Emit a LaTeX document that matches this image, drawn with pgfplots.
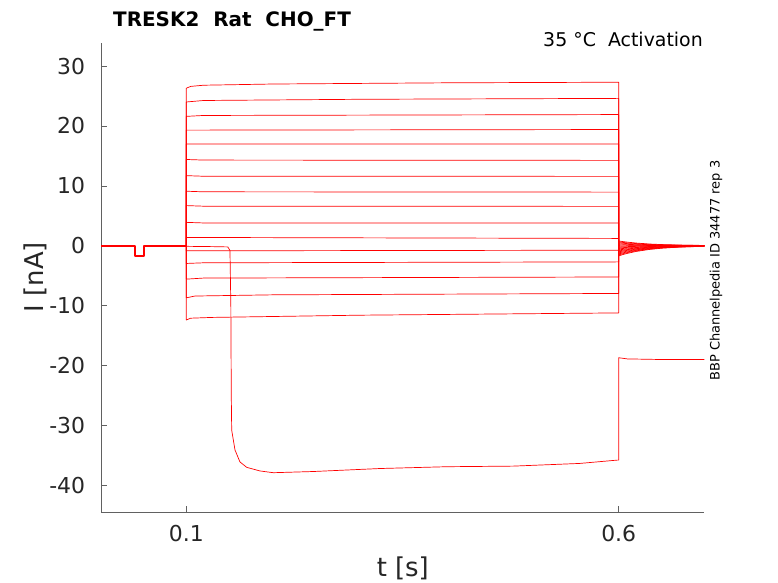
\documentclass[border=0pt]{standalone}
\usepackage{pgfplots}
\pgfplotsset{compat=1.18}
\usepackage{fontspec}
\setmainfont{DejaVu Sans}
\definecolor{axgray}{gray}{0.38}
\definecolor{txtgray}{gray}{0.15}
\pgfplotsset{tr/.style={red, line width=0.7bp, line join=round, mark=none, solid}}
\begin{document}
\begin{tikzpicture}
\useasboundingbox (0bp,0bp) rectangle (778bp,583bp);
\begin{axis}[
  at={(101.3bp,71bp)}, anchor=south west,
  scale only axis, width=603bp, height=468.7bp,
  xmin=0.0017, xmax=0.699, ymin=-44.46, ymax=33.8,
  axis x line*=bottom, axis y line*=left,
  axis line style={-, axgray, line width=0.6bp},
  tick align=inside, major tick length=6bp,
  tick style={axgray, line width=0.6bp},
  xtick={0.1,0.6}, xticklabels={0.1,0.6},
  ytick={-40,-30,-20,-10,0,10,20,30},
  yticklabels={-40,-30,-20,-10,0,10,20,30},
  ticklabel style={font=\fontsize{22}{26}\selectfont, text=txtgray},
  yticklabel style={anchor=east, inner sep=0pt, xshift=-16bp},
  xticklabel style={anchor=north, inner sep=0pt, yshift=-13bp},
  clip=false,
]
% holding + test pulse
\addplot[tr, line width=1.8bp] coordinates {(0.0017,0)(0.0407,0)(0.0407,-1.7)(0.0511,-1.7)(0.0511,0)(0.1,0)};
% step traces with tails
\addplot[tr] coordinates {(0.1,0)(0.1,26.3)(0.105,26.6)(0.12,26.8)(0.2,27.0)(0.4,27.2)(0.6,27.3)(0.6,-1.7)(0.605,-1.47)(0.61,-1.28)(0.62,-0.96)(0.635,-0.63)(0.65,-0.41)(0.67,-0.23)(0.699,-0.10)};
\addplot[tr] coordinates {(0.1,0)(0.1,24.0)(0.12,24.25)(0.3,24.45)(0.6,24.6)(0.6,-1.53)(0.605,-1.33)(0.61,-1.15)(0.62,-0.86)(0.635,-0.56)(0.65,-0.37)(0.67,-0.21)(0.699,-0.09)};
\addplot[tr] coordinates {(0.1,0)(0.1,21.6)(0.12,21.75)(0.6,21.9)(0.6,-1.37)(0.605,-1.19)(0.61,-1.03)(0.62,-0.77)(0.635,-0.50)(0.65,-0.33)(0.67,-0.18)(0.699,-0.08)};
\addplot[tr] coordinates {(0.1,0)(0.1,19.3)(0.6,19.4)(0.6,-1.2)(0.605,-1.04)(0.61,-0.90)(0.62,-0.68)(0.635,-0.44)(0.65,-0.29)(0.67,-0.16)(0.699,-0.07)};
\addplot[tr] coordinates {(0.1,0)(0.1,17.0)(0.6,17.0)(0.6,-1.03)(0.605,-0.89)(0.61,-0.77)(0.62,-0.58)(0.635,-0.38)(0.65,-0.25)(0.67,-0.14)(0.699,-0.06)};
\addplot[tr] coordinates {(0.1,0)(0.1,14.4)(0.12,14.3)(0.6,14.25)(0.6,-0.87)(0.605,-0.75)(0.61,-0.65)(0.62,-0.49)(0.635,-0.32)(0.65,-0.21)(0.67,-0.12)(0.699,-0.05)};
\addplot[tr] coordinates {(0.1,0)(0.1,11.7)(0.12,11.6)(0.6,11.58)(0.6,-0.7)(0.605,-0.61)(0.61,-0.53)(0.62,-0.40)(0.635,-0.26)(0.65,-0.17)(0.67,-0.09)(0.699,-0.04)};
\addplot[tr] coordinates {(0.1,0)(0.1,9.1)(0.12,9.0)(0.6,8.95)(0.6,-0.53)(0.605,-0.46)(0.61,-0.40)(0.62,-0.30)(0.635,-0.20)(0.65,-0.13)(0.67,-0.07)(0.699,-0.03)};
\addplot[tr] coordinates {(0.1,0)(0.1,6.7)(0.12,6.6)(0.6,6.57)(0.6,-0.37)(0.605,-0.32)(0.61,-0.28)(0.62,-0.21)(0.635,-0.14)(0.65,-0.09)(0.67,-0.05)(0.699,-0.02)};
\addplot[tr] coordinates {(0.1,0)(0.1,3.9)(0.12,3.8)(0.6,3.78)(0.6,-0.2)(0.605,-0.17)(0.61,-0.15)(0.62,-0.11)(0.635,-0.07)(0.65,-0.05)(0.67,-0.03)(0.699,-0.01)};
\addplot[tr] coordinates {(0.1,0)(0.1,1.38)(0.6,1.22)(0.6,-0.03)(0.61,-0.02)(0.635,-0.01)(0.699,0)};
\addplot[tr] coordinates {(0.1,0)(0.1,-0.85)(0.6,-0.75)(0.6,0.13)(0.605,0.11)(0.61,0.10)(0.62,0.07)(0.635,0.05)(0.65,0.03)(0.67,0.02)(0.699,0.01)};
\addplot[tr] coordinates {(0.1,0)(0.1,-2.96)(0.12,-2.85)(0.6,-2.7)(0.6,0.3)(0.605,0.26)(0.61,0.23)(0.62,0.17)(0.635,0.11)(0.65,0.07)(0.67,0.04)(0.699,0.02)};
\addplot[tr] coordinates {(0.1,0)(0.1,-5.58)(0.12,-5.4)(0.6,-5.22)(0.6,0.47)(0.605,0.41)(0.61,0.35)(0.62,0.27)(0.635,0.17)(0.65,0.11)(0.67,0.06)(0.699,0.03)};
\addplot[tr] coordinates {(0.1,0)(0.1,-8.7)(0.11,-8.4)(0.2,-8.2)(0.6,-7.97)(0.6,0.63)(0.605,0.55)(0.61,0.47)(0.62,0.36)(0.635,0.23)(0.65,0.15)(0.67,0.09)(0.699,0.04)};
\addplot[tr] coordinates {(0.1,0)(0.1,-12.4)(0.105,-12.1)(0.13,-11.97)(0.3,-11.6)(0.6,-11.22)(0.6,0.8)(0.605,0.69)(0.61,0.60)(0.62,0.45)(0.635,0.29)(0.65,0.19)(0.67,0.11)(0.699,0.05)};
% special trace
\addplot[tr] coordinates {(0.1,0)(0.1,-0.1)(0.13,-0.15)(0.148,-0.2)(0.1505,-0.8)(0.1515,-10)(0.152,-25)(0.1525,-30.8)(0.1563,-34.1)(0.162,-36.1)(0.1698,-37.0)(0.185,-37.6)(0.2006,-37.9)(0.2469,-37.7)(0.324,-37.2)(0.401,-36.9)(0.478,-36.8)(0.555,-36.35)(0.598,-35.8)(0.6,-35.8)(0.6,-18.7)(0.61,-18.9)(0.65,-19.0)(0.699,-19.0)};
\end{axis}
\node[anchor=base west, inner sep=0pt, font=\bfseries\fontsize{20}{24}\selectfont] at (113bp,556bp) {TRESK2\ \ Rat\ \ CHO\_FT};
\node[anchor=base east, inner sep=0pt, font=\fontsize{19}{23}\selectfont] at (703bp,536bp) {35 °C\ \ Activation};
\node[rotate=90, inner sep=0pt, text=txtgray, font=\fontsize{26}{30}\selectfont] at (35bp,306bp) {I [nA]};
\node[anchor=base, inner sep=0pt, text=txtgray, font=\fontsize{26}{30}\selectfont] at (402.8bp,6.3bp) {t [s]};
\node[rotate=90, inner sep=0pt, font=\fontsize{13}{15}\selectfont] at (716bp,312.5bp) {BBP Channelpedia ID 34477 rep 3};
\end{tikzpicture}
\end{document}
